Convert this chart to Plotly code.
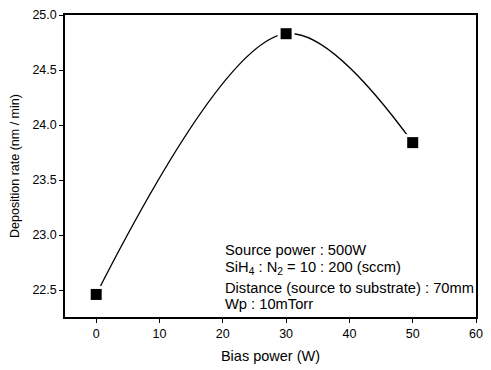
import plotly.graph_objects as go

bias_power = [0, 30, 50]
deposition_rate = [22.46, 24.83, 23.84]

x_ticks = [0, 10, 20, 30, 40, 50, 60]
y_ticks = [22.5, 23.0, 23.5, 24.0, 24.5, 25.0]
y_tick_labels = ["22.5", "23.0", "23.5", "24.0", "24.5", "25.0"]

notes = [
    "Source power : 500W",
    "SiH<sub>4</sub> : N<sub>2</sub> = 10 : 200 (sccm)",
    "Distance (source to substrate) : 70mm",
    "Wp : 10mTorr",
]
note_y = [22.865, 22.70, 22.52, 22.37]

FONT = "Liberation Sans, Arial, sans-serif"

fig = go.Figure()
fig.add_trace(go.Scatter(x=bias_power, y=deposition_rate, mode="lines",
                         line=dict(color="black", width=1.3, shape="spline", smoothing=1.0),
                         hoverinfo="skip", showlegend=False))
fig.add_trace(go.Scatter(x=bias_power, y=deposition_rate, mode="markers",
                         marker=dict(symbol="square", size=17, color="white"),
                         hoverinfo="skip", showlegend=False))
fig.add_trace(go.Scatter(x=bias_power, y=deposition_rate, mode="markers",
                         marker=dict(symbol="square", size=11, color="black"),
                         showlegend=False))

for t, yy in zip(notes, note_y):
    fig.add_annotation(x=20, y=yy, xref="x", yref="y", text=t, showarrow=False,
                       xanchor="left", yanchor="middle",
                       font=dict(family=FONT, size=14.7, color="black"))

axis_common = dict(showgrid=False, zeroline=False, showline=True, linecolor="black",
                   linewidth=1.5, mirror=True, ticks="outside", ticklen=4,
                   tickwidth=1.2, tickcolor="black",
                   tickfont=dict(family=FONT, size=12.5, color="black"))

fig.update_xaxes(range=[-4.93, 60], tickvals=x_ticks,
                 title=dict(text="Bias power (W)", font=dict(family=FONT, size=14.5, color="black"), standoff=11),
                 **axis_common)
fig.update_yaxes(range=[22.255, 25.0], tickvals=y_ticks, ticktext=y_tick_labels,
                 title=dict(text="Deposition rate (nm / min)", font=dict(family=FONT, size=12.5, color="black"), standoff=10),
                 **axis_common)

fig.update_layout(width=491, height=370, margin=dict(l=65, r=8, t=15, b=49),
                  plot_bgcolor="white", paper_bgcolor="white",
                  font=dict(family=FONT, color="black"))

fig.write_html("out.html", config={"displayModeBar": False},
               post_script="document.body.style.margin='0';document.body.style.padding='0';document.body.style.overflow='hidden';")
